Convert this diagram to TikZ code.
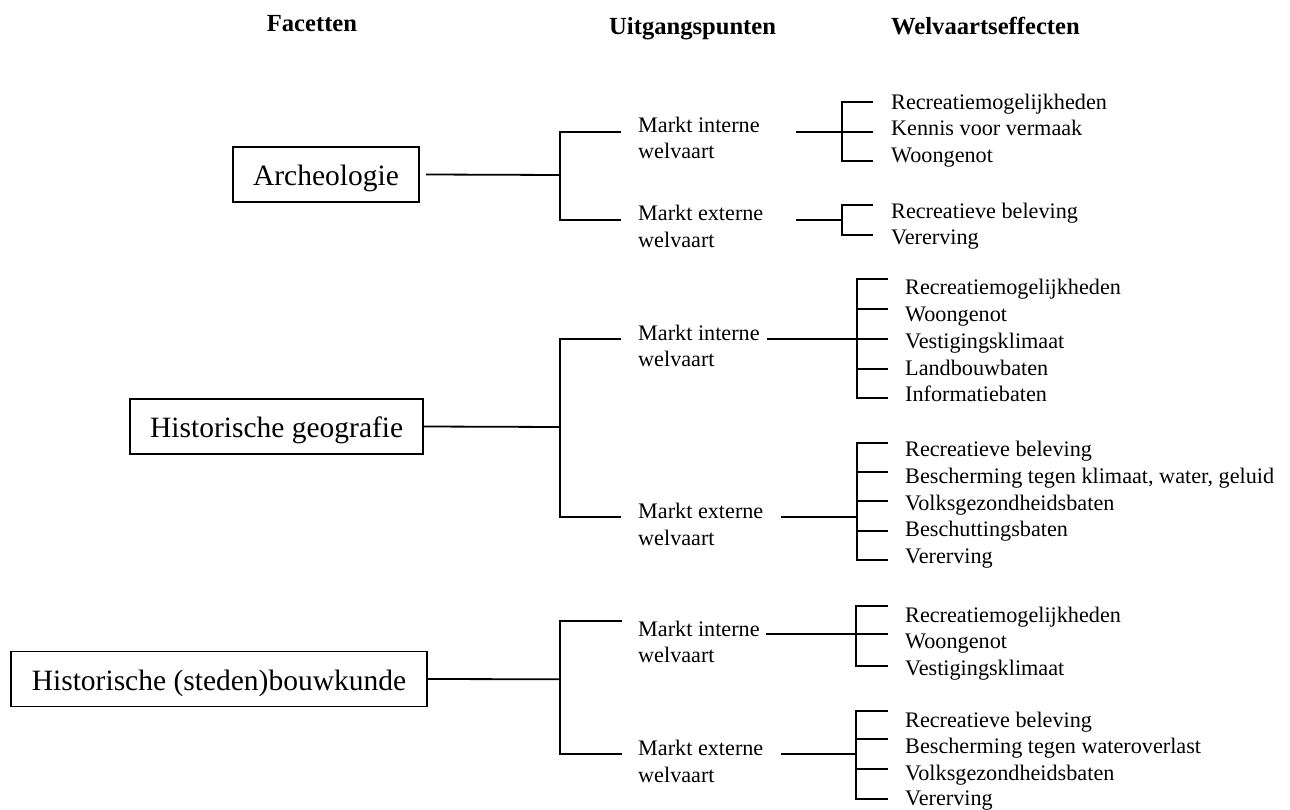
\documentclass[tikz,border=0pt]{standalone}
\usepackage{fontspec}
\setmainfont{Liberation Serif}
\begin{document}
\begin{tikzpicture}[x=1pt,y=-1pt,
  every node/.style={inner sep=0pt},
  conn/.style={line width=1.8pt, line cap=rect},
  hdr/.style={anchor=base west, font=\fontsize{24.6}{28}\selectfont\bfseries},
  lbl/.style={anchor=base west, font=\fontsize{22.2}{26.6}\selectfont},
  facet/.style={draw, line width=1.8pt, minimum height=55pt,
    font=\fontsize{29.5}{34}\selectfont, text height=22pt, text depth=0pt}]
\useasboundingbox (0,0) rectangle (1290,810);

% column headings
\node[hdr] (h1) at (266.7,31.7) {Facetten};
\node[hdr] (h2) at (609,35) {Uitgangspunten};
\node[hdr] (h3) at (891,35) {Welvaartseffecten};

% facets
\node[facet, minimum width=186pt] (arch) at (326,174.5) {Archeologie};
\node[facet, minimum width=293pt] (geo)  at (276.7,426.5) {Historische geografie};
\node[facet, minimum width=416pt] (bouw) at (219,679) {Historische (steden)bouwkunde};

% starting points
\node[lbl] (a-mi)  at (638,132.3) {Markt interne};
\node[lbl] (a-mi2) at (638,158.3) {welvaart};
\node[lbl] (a-me)  at (638,220.7) {Markt externe};
\node[lbl] (a-me2) at (638,247.3) {welvaart};

\node[lbl] (g-mi)  at (638,340) {Markt interne};
\node[lbl] (g-mi2) at (638,366) {welvaart};
\node[lbl] (g-me)  at (638,518.3) {Markt externe};
\node[lbl] (g-me2) at (638,545) {welvaart};

\node[lbl] (b-mi)  at (638,636.7) {Markt interne};
\node[lbl] (b-mi2) at (638,662.7) {welvaart};
\node[lbl] (b-me)  at (638,755) {Markt externe};
\node[lbl] (b-me2) at (638,782.7) {welvaart};

% welfare effects
\node[lbl] (a1-1) at (891,109.3) {Recreatiemogelijkheden};
\node[lbl] (a1-2) at (891,135.7) {Kennis voor vermaak};
\node[lbl] (a1-3) at (891,162.3) {Woongenot};
\node[lbl] (a2-1) at (891,218.3) {Recreatieve beleving};
\node[lbl] (a2-2) at (891,245) {Vererving};

\node[lbl] (g1-1) at (905,294.3) {Recreatiemogelijkheden};
\node[lbl] (g1-2) at (905,321.7) {Woongenot};
\node[lbl] (g1-3) at (905,348.3) {Vestigingsklimaat};
\node[lbl] (g1-4) at (905,375) {Landbouwbaten};
\node[lbl] (g1-5) at (905,401.7) {Informatiebaten};
\node[lbl] (g2-1) at (905,456.7) {Recreatieve beleving};
\node[lbl] (g2-2) at (905,483.3) {Bescherming tegen klimaat, water, geluid};
\node[lbl] (g2-3) at (905,510) {Volksgezondheidsbaten};
\node[lbl] (g2-4) at (905,536.7) {Beschuttingsbaten};
\node[lbl] (g2-5) at (905,563.3) {Vererving};

\node[lbl] (b1-1) at (905,622.3) {Recreatiemogelijkheden};
\node[lbl] (b1-2) at (905,648.3) {Woongenot};
\node[lbl] (b1-3) at (905,675) {Vestigingsklimaat};
\node[lbl] (b2-1) at (905,727.3) {Recreatieve beleving};
\node[lbl] (b2-2) at (905,753.3) {Bescherming tegen wateroverlast};
\node[lbl] (b2-3) at (905,780) {Volksgezondheidsbaten};
\node[lbl] (b2-4) at (905,805) {Vererving};

% facet brackets
\coordinate (ja) at (560,175);
\coordinate (jg) at (560,427);
\coordinate (jb) at (560,679.3);
\draw[conn] ([xshift=7pt]arch.east) -- (ja);
\draw[conn] (geo.east) -- (jg);
\draw[conn] (bouw.east) -- (jb);
\draw[conn] (620,131.7) -| (ja) |- (620,220.3);
\draw[conn] (620,339) -| (jg) |- (620,517.3);
\draw[conn] (620.7,621) -| (jb) |- (620.7,754);

% effect brackets: Archeologie
\coordinate (ka1) at (842,131.7);
\coordinate (ka2) at (842,220.3);
\draw[conn] (797,131.7) -- (ka1);
\draw[conn] (872.5,101.7) -| (842,161) -- (872.5,161);
\draw[conn] (ka1) -- (872.5,131.7);
\draw[conn] (797,220.3) -- (ka2);
\draw[conn] (872.5,205.3) -| (842,235) -- (872.5,235);

% effect brackets: Historische geografie
\coordinate (kg1) at (856.7,339);
\coordinate (kg2) at (856.7,517.3);
\draw[conn] (768.3,339) -- (kg1);
\draw[conn] (887.3,279.3) -| (856.7,398.3) -- (887.3,398.3);
\foreach \yy in {309.3,339,369} \draw[conn] (856.7,\yy) -- (887.3,\yy);
\draw[conn] (782.3,517.3) -- (kg2);
\draw[conn] (887.3,442.7) -| (856.7,560) -- (887.3,560);
\foreach \yy in {471.7,500.7,531} \draw[conn] (856.7,\yy) -- (887.3,\yy);

% effect brackets: Historische (steden)bouwkunde
\coordinate (kb1) at (856,634.3);
\coordinate (kb2) at (856,754);
\draw[conn] (766.7,634.3) -- (kb1);
\draw[conn] (887,605.7) -| (856,665.7) -- (887,665.7);
\draw[conn] (kb1) -- (887,634.3);
\draw[conn] (782.3,754) -- (kb2);
\draw[conn] (887,710.7) -| (856,799) -- (887,799);
\foreach \yy in {739.3,769} \draw[conn] (856,\yy) -- (887,\yy);
\end{tikzpicture}
\end{document}
